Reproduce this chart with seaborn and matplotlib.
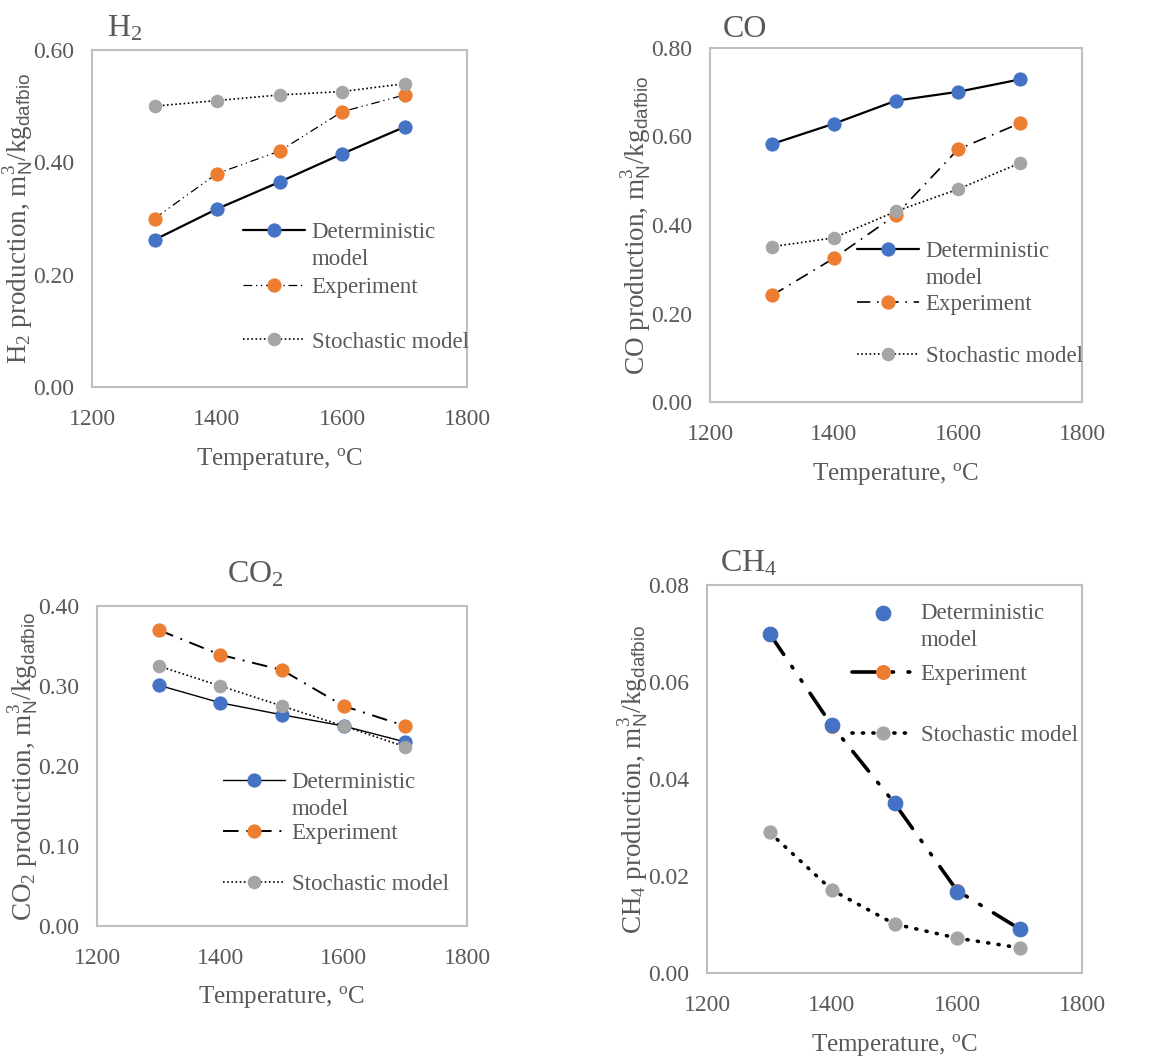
import numpy as np
import pandas as pd
import matplotlib
matplotlib.use("Agg")
import matplotlib.pyplot as plt
import seaborn as sns

# ---------------- data ----------------
temps = [1300, 1400, 1500, 1600, 1700]

h2_det = [0.262, 0.317, 0.365, 0.415, 0.463]
h2_exp = [0.300, 0.380, 0.420, 0.490, 0.520]
h2_sto = [0.500, 0.510, 0.520, 0.526, 0.540]

co_det = [0.583, 0.629, 0.681, 0.701, 0.729]
co_exp = [0.241, 0.325, 0.423, 0.571, 0.630]
co_sto = [0.351, 0.371, 0.431, 0.481, 0.540]

co2_det = [0.301, 0.279, 0.264, 0.250, 0.230]
co2_exp = [0.370, 0.339, 0.320, 0.275, 0.250]
co2_sto = [0.325, 0.300, 0.275, 0.250, 0.224]

ch4_det = [0.0700, 0.0512, 0.0350, 0.0168, 0.0091]
ch4_exp = [0.0700, 0.0510, 0.0350, 0.0170, 0.0091]
ch4_sto = [0.0290, 0.0171, 0.0101, 0.0072, 0.0052]

series_labels = ["Deterministic", "Experiment", "Stochastic model"]
x_ticks = [1200, 1400, 1600, 1800]

# ---------------- style ----------------
sns.set_theme(style="white")
plt.rcParams["font.family"] = ["Liberation Serif", "DejaVu Serif"]
plt.rcParams["mathtext.fontset"] = "custom"
plt.rcParams["mathtext.rm"] = "Liberation Serif"
plt.rcParams["mathtext.it"] = "Liberation Serif:italic"
plt.rcParams["mathtext.sf"] = "Liberation Sans"
plt.rcParams["mathtext.default"] = "rm"

TXT = "#595959"
BLUE = "#4472C4"
ORANGE = "#ED7D31"
GRAY = "#A5A5A5"
SPINE = "#BFBFBF"

W, H = 1169, 1057
fig = plt.figure(figsize=(W / 100, H / 100), dpi=100)


def px_axes(l, t, r, b):
    return fig.add_axes([l / W, 1 - b / H, (r - l) / W, (b - t) / H])


def style_axes(ax, ymax, ystep, ylabel, ylab_x):
    ax.set_xlim(1200, 1800)
    ax.set_ylim(0, ymax)
    ax.set_xticks(x_ticks)
    ax.set_yticks(np.arange(0, ymax + ystep / 2, ystep))
    ax.yaxis.set_major_formatter(matplotlib.ticker.FormatStrFormatter("%.2f"))
    ax.tick_params(axis="both", length=0, labelsize=17, colors=TXT)
    ax.tick_params(axis="y", pad=13)
    ax.tick_params(axis="x", pad=16)
    for s in ax.spines.values():
        s.set_visible(True)
        s.set_color(SPINE)
        s.set_linewidth(1.5)
    ax.set_xlabel(r"Temperature, $^{\mathrm{o}}$C", fontsize=18, color=TXT, labelpad=11)
    ax.set_ylabel(ylabel, fontsize=19.5, color=TXT)
    ax.yaxis.set_label_coords(ylab_x, 0.5)
    ax.grid(False)


def add_model_line(ax, leg):
    ax.annotate("model", xy=(0, 0), xycoords=leg.get_texts()[0], xytext=(0, -4.5),
                textcoords="offset points", va="top", ha="left", fontsize=16.5,
                color=TXT, zorder=20)


def add_legend(ax, lx, ty, spacing):
    leg = ax.legend(loc="upper left", bbox_to_anchor=(lx / W, 1 - ty / H),
                    bbox_transform=fig.transFigure, frameon=False, fontsize=16.5,
                    handlelength=2.7, handletextpad=0.3, borderpad=0, borderaxespad=0,
                    labelspacing=spacing)
    for t in leg.get_texts():
        t.set_color(TXT)
    add_model_line(ax, leg)
    return leg


def three_lines(ax, det, exp, sto, det_ls, det_lw, exp_ls, exp_lw, sto_ls, sto_lw):
    sns.lineplot(x=temps, y=det, ax=ax, color="black", lw=det_lw, linestyle=det_ls,
                 marker="o", markersize=9.5, markerfacecolor=BLUE, markeredgecolor=BLUE,
                 label=series_labels[0])
    sns.lineplot(x=temps, y=exp, ax=ax, color="black", lw=exp_lw, linestyle=exp_ls,
                 marker="o", markersize=9.5, markerfacecolor=ORANGE, markeredgecolor=ORANGE,
                 label=series_labels[1])
    sns.lineplot(x=temps, y=sto, ax=ax, color="black", lw=sto_lw, linestyle=sto_ls,
                 marker="o", markersize=9, markerfacecolor=GRAY, markeredgecolor=GRAY,
                 label=series_labels[2])


# ---------------- H2 ----------------
ax1 = px_axes(92, 50, 467, 387)
three_lines(ax1, h2_det, h2_exp, h2_sto, "-", 1.6, (0, (7, 3, 1, 3, 1, 3)), 0.9, (0, (1, 1.5)), 1.2)
style_axes(ax1, 0.6, 0.2, r"H$_2$ production, m$^3_{\mathsf{N}}$/kg$_{\mathsf{dafbio}}$", -0.15)
ax1.text(0.04, 1.04, r"H$_2$", transform=ax1.transAxes, fontsize=23, color=TXT,
         ha="left", va="baseline")
add_legend(ax1, 243, 222, 1.47)

# ---------------- CO ----------------
ax2 = px_axes(710, 48, 1082, 402)
three_lines(ax2, co_det, co_exp, co_sto, "-", 1.6, (0, (8, 4, 1, 4)), 1.2, (0, (1, 1.5)), 1.2)
style_axes(ax2, 0.8, 0.2, r"CO production, m$^3_{\mathsf{N}}$/kg$_{\mathsf{dafbio}}$", -0.15)
ax2.text(0.035, 1.031, "CO", transform=ax2.transAxes, fontsize=23, color=TXT,
         ha="left", va="baseline")
add_legend(ax2, 857, 241, 1.38)

# ---------------- CO2 ----------------
ax3 = px_axes(97, 606, 467, 926)
three_lines(ax3, co2_det, co2_exp, co2_sto, "-", 1.0, (0, (8, 4, 1, 4)), 1.4, (0, (1, 1.5)), 1.2)
style_axes(ax3, 0.4, 0.1, r"CO$_2$ production, m$^3_{\mathsf{N}}$/kg$_{\mathsf{dafbio}}$", -0.15)
ax3.text(0.427, 1.072, r"CO$_2$", transform=ax3.transAxes, fontsize=23, color=TXT,
         ha="center", va="baseline")
add_legend(ax3, 223, 772, 1.3)

# ---------------- CH4 ----------------
ax4 = px_axes(707, 585, 1082, 973)
sns.lineplot(x=temps, y=ch4_exp, ax=ax4, color="black", lw=2.6,
             linestyle=(0, (7, 4, 0.5, 4, 0.5, 4)), dash_capstyle="round",
             marker="o", markersize=10, markerfacecolor=ORANGE, markeredgecolor=ORANGE,
             label=series_labels[1])
sns.lineplot(x=temps, y=ch4_sto, ax=ax4, color="black", lw=2.6, linestyle=(0, (0.3, 2.6)),
             dash_capstyle="round",
             marker="o", markersize=9.5, markerfacecolor=GRAY, markeredgecolor=GRAY,
             label=series_labels[2])
sns.scatterplot(x=temps, y=ch4_det, ax=ax4, color=BLUE, edgecolor=BLUE, s=110,
                label=series_labels[0], zorder=5)
style_axes(ax4, 0.08, 0.02, r"CH$_4$ production, m$^3_{\mathsf{N}}$/kg$_{\mathsf{dafbio}}$", -0.15)
ax4.text(0.035, 1.034, r"CH$_4$", transform=ax4.transAxes, fontsize=23, color=TXT,
         ha="left", va="baseline")
h, l = ax4.get_legend_handles_labels()
order = [l.index(s) for s in series_labels]
leg4 = ax4.legend([h[i] for i in order], [l[i] for i in order], loc="upper left",
                  bbox_to_anchor=(852 / W, 1 - 603 / H), bbox_transform=fig.transFigure,
                  frameon=False, fontsize=16.5, handlelength=2.7, handletextpad=0.3,
                  borderpad=0, borderaxespad=0, labelspacing=1.75)
for t in leg4.get_texts():
    t.set_color(TXT)
add_model_line(ax4, leg4)

fig.savefig("out.png", dpi=100)
